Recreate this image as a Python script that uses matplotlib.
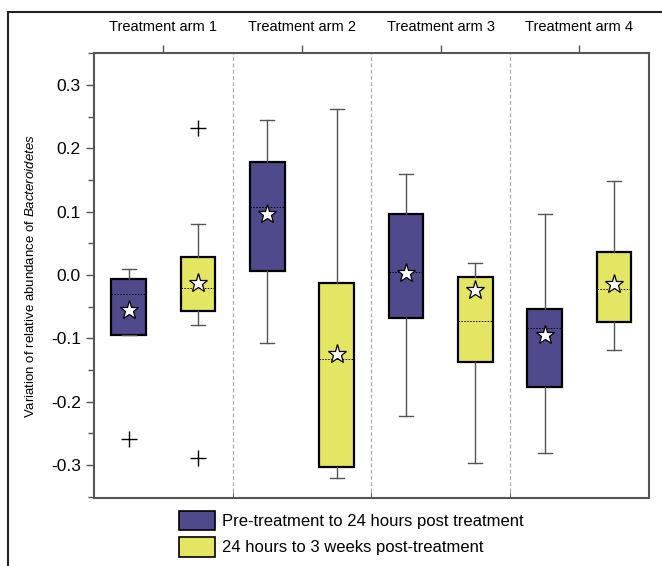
import numpy as np
import matplotlib
matplotlib.use('Agg')
from matplotlib import pyplot as plt
from matplotlib.patches import Rectangle, Patch

plt.rcParams['font.family'] = ['Liberation Sans', 'DejaVu Sans']
plt.rcParams['mathtext.fontset'] = 'custom'
plt.rcParams['mathtext.it'] = 'Liberation Sans:italic'
plt.rcParams['mathtext.rm'] = 'Liberation Sans'

groups = ['Treatment arm 1', 'Treatment arm 2', 'Treatment arm 3', 'Treatment arm 4']
series = ['Pre-treatment to 24 hours post treatment', '24 hours to 3 weeks post-treatment']

# purple: pre-treatment -> 24 h
pre_q1 = [-0.094, 0.006, -0.068, -0.176]
pre_q3 = [-0.006, 0.179, 0.096, -0.054]
pre_med = [-0.030, 0.108, 0.004, -0.083]
pre_mean = [-0.055, 0.097, 0.003, -0.095]
pre_lo = [-0.095, -0.108, -0.222, -0.281]
pre_hi = [0.010, 0.244, 0.159, 0.097]
pre_out = [[-0.259], [], [], []]

# yellow: 24 h -> 3 weeks
post_q1 = [-0.057, -0.303, -0.138, -0.074]
post_q3 = [0.028, -0.012, -0.003, 0.037]
post_med = [-0.020, -0.133, -0.072, -0.022]
post_mean = [-0.013, -0.124, -0.023, -0.014]
post_lo = [-0.079, -0.320, -0.296, -0.118]
post_hi = [0.081, 0.262, 0.019, 0.149]
post_out = [[0.232, -0.288], [], [], []]

purple = '#4f4a8c'
yellow = '#e3e563'
grey = '#555555'


def stats(q1, q3, med, mean, lo, hi, out):
    return [dict(q1=q1[i], q3=q3[i], med=med[i], mean=mean[i],
                 whislo=lo[i], whishi=hi[i], fliers=out[i]) for i in range(len(q1))]


fig = plt.figure(figsize=(6.62, 5.66), dpi=100)
ax = fig.add_axes([0.142, 0.12, 0.838, 0.786])

pos = np.arange(1, len(groups) + 1)
for st, off, col in [(stats(pre_q1, pre_q3, pre_med, pre_mean, pre_lo, pre_hi, pre_out), -0.25, purple),
                     (stats(post_q1, post_q3, post_med, post_mean, post_lo, post_hi, post_out), 0.25, yellow)]:
    ax.bxp(st, positions=pos + off, widths=0.25, capwidths=0.1,
           showmeans=True, patch_artist=True, manage_ticks=False,
           boxprops=dict(facecolor=col, edgecolor='black', linewidth=1.6),
           whiskerprops=dict(color=grey, linewidth=1.0),
           capprops=dict(color=grey, linewidth=1.0),
           medianprops=dict(color='black', linewidth=0.7, linestyle=(0, (1.5, 1.5))),
           meanprops=dict(marker='*', markerfacecolor='white', markeredgecolor='black',
                          markersize=14, markeredgewidth=0.9),
           flierprops=dict(marker='+', markeredgecolor='black', markersize=11,
                           markeredgewidth=1.0))

for b in pos[:-1] + 0.5:
    ax.axvline(b, color='#aaaaaa', linewidth=0.9, linestyle=(0, (3, 2)), zorder=0)

ax.set_xlim(0.5, 4.5)
ax.set_ylim(-0.352, 0.35)
ax.set_yticks([-0.3, -0.2, -0.1, 0.0, 0.1, 0.2, 0.3])
ax.set_yticks(np.arange(-0.35, 0.36, 0.05), minor=True)
ax.set_yticklabels(['-0.3', '-0.2', '-0.1', '0.0', '0.1', '0.2', '0.3'])
ax.tick_params(axis='y', which='major', length=6, width=1.0, color=grey, labelsize=12.5)
ax.tick_params(axis='y', which='minor', length=4, width=1.0, color=grey)

ax.set_xticks(pos)
ax.set_xticklabels(groups)
ax.xaxis.set_ticks_position('top')
ax.xaxis.set_label_position('top')
ax.tick_params(axis='x', which='major', length=6, width=1.0, color=grey, labelsize=10.5, pad=8)
ax.set_xticks(pos[:-1] + 0.5, minor=True)
ax.tick_params(axis='x', which='minor', bottom=True, top=False, direction='in', length=4, color=grey)

for s in ax.spines.values():
    s.set_color(grey)
    s.set_linewidth(1.5)

ax.set_ylabel(r'Variation of relative abundance of $\it{Bacteroidetes}$', fontsize=9.5, labelpad=10)

handles = [Patch(facecolor=purple, edgecolor='black', linewidth=1.2, label=series[0]),
           Patch(facecolor=yellow, edgecolor='black', linewidth=1.2, label=series[1])]
fig.legend(handles=handles, loc='upper left', bbox_to_anchor=(0.27, 0.098), frameon=False,
           fontsize=12, handlelength=2.2, handleheight=1.4, handletextpad=0.4,
           labelspacing=0.45, borderaxespad=0, borderpad=0)

# outer frame of the figure (cropped at right and bottom)
fig.patches.append(Rectangle((0.012, -0.05), 1.2, 1.029, transform=fig.transFigure,
                             fill=False, edgecolor='#222222', linewidth=1.5))

fig.savefig('out.png', dpi=100)
